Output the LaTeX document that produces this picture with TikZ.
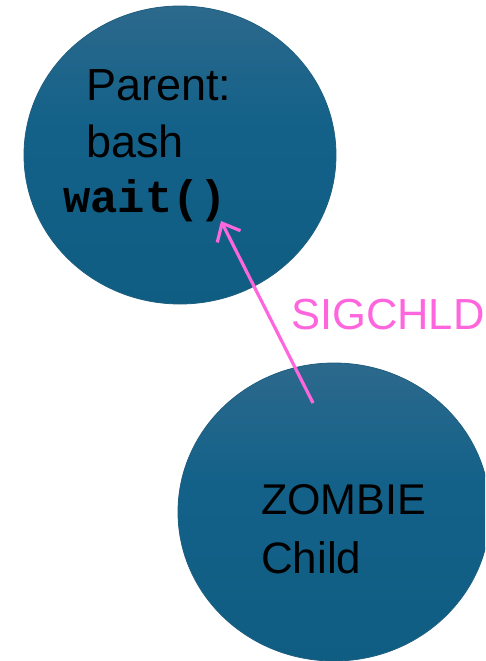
\documentclass[tikz,border=0pt]{standalone}
\usepackage{fontspec}
\setmainfont{Liberation Sans}
\setmonofont{Liberation Mono}
\usetikzlibrary{shapes.geometric,arrows.meta}
\definecolor{blobtop}{HTML}{4C7390}
\definecolor{blobmid}{HTML}{136189}
\definecolor{blobbot}{HTML}{0E5A7E}
\definecolor{blobedge}{HTML}{1E5E7F}
\definecolor{sigpink}{HTML}{FF66DD}
\pgfdeclareverticalshading{blobshade}{100bp}{color(0bp)=(blobbot); color(55bp)=(blobmid); color(100bp)=(blobtop)}
\begin{document}
\begin{tikzpicture}[x=1pt,y=-1pt,
  blob/.style={ellipse, draw=blobedge, line width=0.8pt, shading=blobshade, shade, minimum width=312pt, minimum height=298pt, inner sep=0pt},
  lbl/.style={anchor=base west, inner sep=0pt, text=black, font=\fontsize{45}{54}\selectfont},
  code/.style={anchor=base west, inner sep=0pt, text=black, font=\ttfamily\bfseries\fontsize{45.5}{52}\selectfont},
  sig/.style={-{Straight Barb[length=15pt,width=26pt,line width=3.2pt]}, draw=sigpink, line width=3.2pt}]
\clip (0,0) rectangle (485,661);
\node[blob] (parent) at (180,155) {};
\node[blob] (child) at (334,512) {};
\node[lbl] (ptxt1) at (86,100) {Parent:};
\node[lbl] (ptxt2) at (86,157) {bash};
\node[code] (wait) at (63,212) {wait()};
\node[lbl, font=\fontsize{43}{52}\selectfont] (ctxt1) at (261,514) {ZOMBIE};
\node[lbl, font=\fontsize{44}{52}\selectfont] (ctxt2) at (261,573) {Child};
\coordinate (sigstart) at (313,403);
\coordinate (sigend) at (221,221);
\draw[sig] (sigstart) -- (sigend);
\node[anchor=base west, inner sep=0pt, text=sigpink, font=\fontsize{43.5}{52}\selectfont] (siglbl) at (291,329) {SIGCHLD};
\end{tikzpicture}
\end{document}
